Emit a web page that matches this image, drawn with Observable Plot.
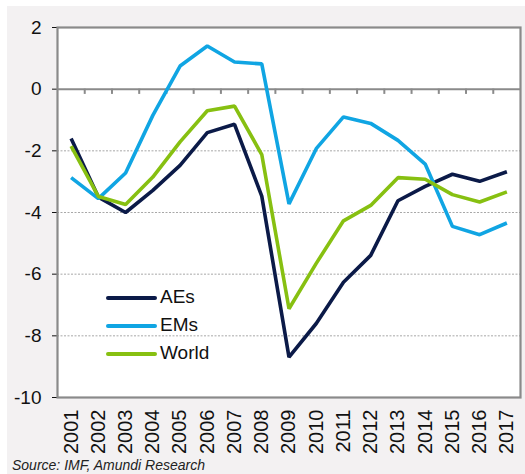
<!DOCTYPE html>
<html>
<head>
<meta charset="utf-8">
<script src="https://cdn.jsdelivr.net/npm/d3@7"></script>
<script src="https://cdn.jsdelivr.net/npm/@observablehq/plot@0.6"></script>
<style>
  html, body { margin: 0; padding: 0; background: #ffffff; }
  #wrap { position: relative; width: 525px; height: 474px; overflow: hidden; font-family: "Liberation Sans", Arial, sans-serif; }
  #bg { position: absolute; left: 7px; top: 6px; width: 518px; height: 468px; background: #f3f1f2; }
  #chart { position: absolute; left: 0; top: 0; }
  #chart svg { background: transparent !important; }
  #chart svg [aria-label^="x-axis"] text { font-size: 20px; }
  #chart svg [aria-label^="y-axis"] text { font-size: 19px; }
  #legend { position: absolute; left: 106px; top: 284px; font-size: 19px; color: #111; }
  .li { position: relative; height: 28px; }
  .li span.sw { position: absolute; left: 0; top: 12px; width: 51px; height: 4px; border-radius: 2px; }
  .li span.lb { position: absolute; left: 54px; top: 2px; line-height: 22px; }
  #source { position: absolute; left: 12px; top: 458px; font-size: 14px; line-height: 15px; font-style: italic; color: #222; white-space: nowrap; }
</style>
</head>
<body>
<div id="wrap">
  <div id="bg"></div>
  <div id="chart"></div>
  <div id="legend"></div>
  <div id="source">Source: IMF, Amundi Research</div>
</div>
<script>
const years = [2001,2002,2003,2004,2005,2006,2007,2008,2009,2010,2011,2012,2013,2014,2015,2016,2017];
const aes   = [-1.6,-3.5,-4.0,-3.28,-2.47,-1.41,-1.14,-3.47,-8.69,-7.6,-6.26,-5.39,-3.62,-3.15,-2.76,-2.99,-2.68];
const ems   = [-2.87,-3.55,-2.72,-0.85,0.75,1.4,0.88,0.82,-3.72,-1.93,-0.9,-1.11,-1.66,-2.43,-4.45,-4.72,-4.34];
const world = [-1.85,-3.48,-3.74,-2.85,-1.71,-0.7,-0.55,-2.12,-7.12,-5.65,-4.27,-3.77,-2.87,-2.92,-3.42,-3.66,-3.33];
const seriesNames  = ["AEs","EMs","World"];
const seriesColors = ["#0b1a48","#10a5e3","#87c011"];
const yTicks = [-10,-8,-6,-4,-2,0,2];
const gridValues = [-2,-4,-6,-8];

const rows = [];
[aes, ems, world].forEach((arr, si) => {
  arr.forEach((v, i) => rows.push({year: years[i], value: v, series: seriesNames[si]}));
});
const bounds = years.slice(1).map(y => y - 0.5);

const chart = Plot.plot({
  width: 525,
  height: 474,
  marginLeft: 57,
  marginRight: 5,
  marginTop: 27,
  marginBottom: 77,
  style: {fontFamily: "'Liberation Sans', Arial, sans-serif", fontSize: "18px", color: "#111", background: "transparent"},
  x: {type: "linear", domain: [2000.5, 2017.5], ticks: years, tickFormat: d => String(d), tickRotate: -90, tickSize: 0, tickPadding: 12, label: null},
  y: {domain: [-10, 2], ticks: yTicks, tickFormat: d => String(d), tickSize: 5, tickPadding: 11, label: null},
  color: {domain: seriesNames, range: seriesColors},
  marks: [
    Plot.frame({fill: "white", stroke: "none"}),
    Plot.ruleY(gridValues, {stroke: "#a8a8a8", strokeWidth: 1, strokeDasharray: "2,1.5"}),
    Plot.ruleY([0], {stroke: "#8a8a8a", strokeWidth: 2}),
    Plot.ruleX(bounds, {y1: 0, y2: -0.17, stroke: "#8a8a8a", strokeWidth: 2}),
    Plot.line(rows, {x: "year", y: "value", z: "series", stroke: "series", strokeWidth: 3.6, strokeLinejoin: "miter", strokeLinecap: "butt"}),
    Plot.frame({stroke: "#8a8a8a", strokeWidth: 2.2})
  ]
});
document.getElementById("chart").appendChild(chart);

const legend = document.getElementById("legend");
seriesNames.forEach((name, i) => {
  const d = document.createElement("div");
  d.className = "li";
  d.innerHTML = `<span class="sw" style="background:${seriesColors[i]}"></span><span class="lb">${name}</span>`;
  legend.appendChild(d);
});
</script>
</body>
</html>
